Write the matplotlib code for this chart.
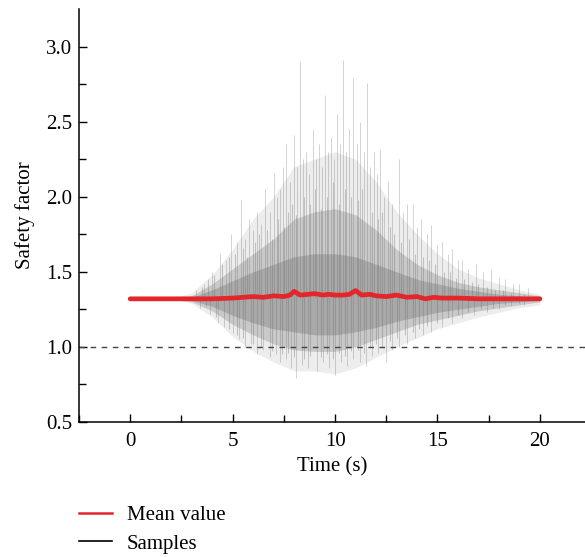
import matplotlib
matplotlib.use("Agg")
import matplotlib.pyplot as plt
from matplotlib.lines import Line2D

plt.rcParams['font.family'] = ['Liberation Serif', 'DejaVu Serif']

# mean safety factor over time
mean_t = [0, 3, 4, 5, 5.5, 6, 6.5, 7, 7.5, 7.8, 8.0, 8.3, 8.7, 9.0, 9.4, 9.7,
          10.0, 10.4, 10.7, 11.0, 11.3, 11.7, 12.0, 12.5, 13.0, 13.5, 14.0,
          14.4, 14.8, 15.2, 16, 17, 18, 19, 20]
mean_v = [1.32, 1.32, 1.32, 1.325, 1.33, 1.335, 1.33, 1.34, 1.335, 1.345, 1.37,
          1.345, 1.35, 1.355, 1.345, 1.35, 1.345, 1.345, 1.35, 1.375, 1.345,
          1.35, 1.34, 1.335, 1.345, 1.33, 1.335, 1.32, 1.33, 1.325, 1.325,
          1.32, 1.32, 1.32, 1.32]

# spread of the sample cloud (1 s steps, t = 2..20)
band_t = [2, 3, 4, 5, 6, 7, 8, 9, 10, 11, 12, 13, 14, 15, 16, 17, 18, 19, 20]
outer_hi = [1.32, 1.36, 1.48, 1.65, 1.85, 2.0, 2.2, 2.25, 2.3, 2.25, 2.1, 1.9,
            1.75, 1.62, 1.52, 1.46, 1.42, 1.38, 1.35]
outer_lo = [1.32, 1.29, 1.2, 1.07, 0.97, 0.9, 0.84, 0.84, 0.82, 0.86, 0.93,
            1.0, 1.06, 1.12, 1.16, 1.2, 1.23, 1.26, 1.28]
mid_hi = [1.32, 1.34, 1.42, 1.52, 1.62, 1.72, 1.85, 1.9, 1.92, 1.88, 1.78,
          1.65, 1.55, 1.48, 1.43, 1.40, 1.38, 1.36, 1.34]
mid_lo = [1.32, 1.30, 1.24, 1.15, 1.08, 1.02, 0.98, 0.97, 0.97, 1.0, 1.05,
          1.1, 1.15, 1.18, 1.21, 1.24, 1.26, 1.28, 1.30]
core_hi = [1.32, 1.33, 1.38, 1.44, 1.5, 1.55, 1.6, 1.62, 1.62, 1.6, 1.55, 1.5,
           1.45, 1.42, 1.39, 1.37, 1.35, 1.34, 1.33]
core_lo = [1.32, 1.31, 1.27, 1.21, 1.16, 1.12, 1.1, 1.08, 1.08, 1.1, 1.13,
           1.17, 1.2, 1.23, 1.25, 1.27, 1.29, 1.3, 1.31]

# individual sample excursions (tallest peaks and deepest troughs)
up_t = [3.2, 3.6, 4.0, 4.4, 4.7, 4.9, 5.2, 5.4, 5.6, 5.8, 6.0, 6.2, 6.4, 6.6,
        6.8, 7.0, 7.15, 7.3, 7.45, 7.6, 7.8, 8.0, 8.15, 8.3, 8.45, 8.6, 8.75,
        8.9, 9.05, 9.2, 9.35, 9.5, 9.65, 9.8, 9.95, 10.1, 10.25, 10.4, 10.55,
        10.7, 10.9, 11.05, 11.2, 11.4, 11.55, 11.7, 11.9, 12.05, 12.2, 12.4,
        12.6, 12.8, 13.1, 13.3, 13.5, 13.8, 14.0, 14.2, 14.5, 14.7, 15.0, 15.2,
        15.5, 15.7, 16.0, 16.2, 16.5, 16.9, 17.2, 17.6, 18.0, 18.3, 18.7, 19.0,
        19.4]
up_v = [1.38, 1.42, 1.5, 1.62, 1.58, 1.75, 1.7, 1.98, 1.72, 1.85, 1.78, 1.9,
        1.82, 2.05, 1.9, 2.16, 2.0, 2.05, 2.2, 2.35, 2.1, 2.41, 2.2, 2.9, 2.25,
        2.3, 2.15, 2.45, 2.25, 2.35, 2.2, 2.68, 2.3, 2.4, 2.25, 2.55, 2.35,
        2.91, 2.3, 2.45, 2.79, 2.35, 2.5, 2.3, 2.76, 2.2, 2.3, 2.15, 2.31, 2.0,
        2.1, 1.95, 2.25, 1.9, 1.95, 1.95, 1.8, 1.85, 1.75, 1.81, 1.68, 1.7,
        1.62, 1.65, 1.58, 1.58, 1.52, 1.55, 1.5, 1.51, 1.46, 1.45, 1.42, 1.42,
        1.39]
down_t = [3.4, 3.9, 4.3, 4.6, 5.0, 5.3, 5.6, 5.9, 6.2, 6.5, 6.8, 7.1, 7.3, 7.6,
          7.85, 8.1, 8.4, 8.7, 9.1, 9.4, 9.7, 10.0, 10.3, 10.6, 10.9, 11.2,
          11.5, 11.8, 12.1, 12.5, 12.8, 13.1, 13.5, 13.9, 14.3, 14.7, 15.2,
          15.7, 16.2, 16.8, 17.4, 18.0, 18.6, 19.2]
down_v = [1.26, 1.22, 1.16, 1.13, 1.09, 1.05, 1.0, 1.02, 0.95, 0.98, 0.93, 0.95,
          0.9, 0.92, 0.86, 0.79, 0.88, 0.86, 0.84, 0.9, 0.86, 0.81, 0.9, 0.87,
          0.92, 0.9, 0.87, 0.94, 0.96, 0.9, 0.98, 1.0, 1.02, 1.06, 1.08, 1.1,
          1.13, 1.16, 1.19, 1.21, 1.23, 1.25, 1.27, 1.28]

# moderate excursions of the bulk of the samples
mup_t = [3.5, 3.8, 4.1, 4.5, 4.8, 5.1, 5.5, 5.7, 6.1, 6.3, 6.7, 6.9, 7.2, 7.5,
         7.7, 7.9, 8.1, 8.5, 8.8, 9.0, 9.3, 9.6, 9.9, 10.2, 10.5, 10.8, 11.1,
         11.3, 11.8, 12.1, 12.3, 12.7, 12.9, 13.2, 13.6, 13.9, 14.3, 14.6,
         14.9, 15.3, 15.6, 15.9, 16.3, 16.7, 17.0, 17.4, 17.8, 18.2, 18.6, 19.2]
mup_v = [1.4, 1.45, 1.48, 1.55, 1.6, 1.62, 1.66, 1.6, 1.7, 1.75, 1.78, 1.72,
         1.85, 1.8, 1.9, 1.95, 1.88, 2.0, 1.95, 2.05, 1.92, 2.0, 2.1, 1.95,
         2.05, 2.0, 1.98, 2.05, 1.9, 1.85, 1.9, 1.8, 1.75, 1.7, 1.72, 1.62,
         1.6, 1.58, 1.55, 1.5, 1.5, 1.46, 1.45, 1.43, 1.42, 1.4, 1.38, 1.38,
         1.36, 1.35]
mdown_t = [3.7, 4.2, 4.8, 5.2, 5.5, 6.0, 6.4, 6.9, 7.4, 7.7, 8.0, 8.5, 8.8, 9.3,
           9.6, 9.9, 10.2, 10.5, 10.8, 11.1, 11.4, 11.7, 12.0, 12.3, 12.7,
           13.0, 13.4, 13.8, 14.1, 14.5, 15.0, 15.5, 16.0, 16.5, 17.1, 17.7,
           18.3, 19.0]
mdown_v = [1.27, 1.2, 1.12, 1.08, 1.06, 1.02, 1.0, 0.97, 0.95, 0.96, 0.93, 0.92,
           0.94, 0.93, 0.95, 0.92, 0.96, 0.94, 0.97, 0.98, 0.96, 1.0, 1.02,
           1.0, 1.04, 1.06, 1.08, 1.1, 1.12, 1.14, 1.16, 1.19, 1.21, 1.23,
           1.25, 1.26, 1.28, 1.29]

threshold = 1.0

fig = plt.figure(figsize=(5.85, 5.57), dpi=100)
ax = fig.add_axes([0.135, 0.2424, 0.865, 0.7415])

gray = '#6e6e6e'
ax.fill_between(band_t, outer_lo, outer_hi, color=gray, alpha=0.12, lw=0)
ax.fill_between(band_t, mid_lo, mid_hi, color=gray, alpha=0.28, lw=0)
ax.fill_between(band_t, core_lo, core_hi, color=gray, alpha=0.35, lw=0)
ax.vlines(up_t, 1.33, up_v, color=gray, alpha=0.3, lw=0.7)
ax.vlines(down_t, down_v, 1.33, color=gray, alpha=0.3, lw=0.7)
ax.vlines(mup_t, 1.33, mup_v, color=gray, alpha=0.35, lw=0.8)
ax.vlines(mdown_t, mdown_v, 1.33, color=gray, alpha=0.35, lw=0.8)

ax.axhline(threshold, color='#444444', lw=1.0, dashes=(4, 4))
ax.plot(mean_t, mean_v, color='#e2262b', lw=3.4, solid_capstyle='round',
        solid_joinstyle='round')

ax.set_xlim(-2.5, 22.2)
ax.set_ylim(0.5, 3.25)
ax.set_xticks([0, 5, 10, 15, 20])
ax.set_xticks([-2.5, 2.5, 7.5, 12.5, 17.5], minor=True)
ax.set_yticks([0.5, 1.0, 1.5, 2.0, 2.5, 3.0])
ax.set_yticks([0.75, 1.25, 1.75, 2.25, 2.75], minor=True)
ax.set_yticklabels(['0.5', '1.0', '1.5', '2.0', '2.5', '3.0'])
ax.tick_params(which='both', direction='in', labelsize=15, width=1.0)
ax.tick_params(which='major', length=6)
ax.tick_params(which='minor', length=5)
ax.tick_params(axis='x', pad=7)
ax.tick_params(axis='y', pad=5)
for s in ['top', 'right']:
    ax.spines[s].set_visible(False)
for s in ['left', 'bottom']:
    ax.spines[s].set_linewidth(1.1)

ax.set_xlabel('Time (s)', fontsize=15, labelpad=5)
ax.set_ylabel('Safety factor', fontsize=15, labelpad=8)

handles = [Line2D([], [], color='#e2262b', lw=1.8),
           Line2D([], [], color='black', lw=1.2)]
fig.legend(handles, ['Mean value', 'Samples'], loc='upper left',
           bbox_to_anchor=(0.135, 0.092), frameon=False, fontsize=15,
           handlelength=1.6, handletextpad=0.7, labelspacing=0.42,
           borderaxespad=0, borderpad=0)

fig.savefig('out.png', dpi=100)
